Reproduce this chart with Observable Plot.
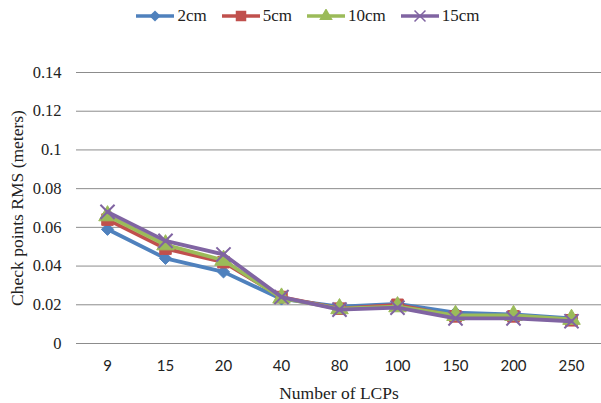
<!DOCTYPE html>
<html>
<head>
<meta charset="utf-8">
<script src="https://cdn.jsdelivr.net/npm/d3@7"></script>
<script src="https://cdn.jsdelivr.net/npm/@observablehq/plot@0.6"></script>
<style>
  html, body { margin: 0; padding: 0; background: #fff; }
  #wrap { width: 601px; height: 403px; position: relative; overflow: hidden; }
  #legend { height: 32px; display: flex; justify-content: center; align-items: center; gap: 14px;
            font-family: "Liberation Serif", serif; font-size: 17px; color: #222; padding-left: 14px; box-sizing: border-box; }
  .item { display: flex; align-items: center; gap: 2px; }
  #chart svg { display: block; }
</style>
</head>
<body>
<div id="wrap">
  <div id="legend"></div>
  <div id="chart"></div>
</div>
<script>
const categories = ["9", "15", "20", "40", "80", "100", "150", "200", "250"];
const seriesNames = ["2cm", "5cm", "10cm", "15cm"];
const values2cm  = [0.059, 0.044, 0.037, 0.023, 0.019, 0.0205, 0.016, 0.015, 0.013];
const values5cm  = [0.064, 0.049, 0.042, 0.024, 0.018, 0.020, 0.014, 0.014, 0.012];
const values10cm = [0.066, 0.051, 0.043, 0.0235, 0.018, 0.019, 0.0145, 0.0145, 0.0125];
const values15cm = [0.068, 0.053, 0.046, 0.024, 0.0175, 0.0185, 0.013, 0.013, 0.0115];
const yTicks = [0, 0.02, 0.04, 0.06, 0.08, 0.1, 0.12, 0.14];
const colors = ["#4F81BD", "#C0504D", "#9BBB59", "#8064A2"];
const symbols = ["diamond2", "square", "triangle", "times"];
const seriesValues = [values2cm, values5cm, values10cm, values15cm];

const data = [];
seriesNames.forEach((s, i) => {
  categories.forEach((c, j) => data.push({series: s, x: c, y: seriesValues[i][j]}));
});

const marks = [
  Plot.gridY(yTicks, {stroke: "#8c8c8c", strokeOpacity: 1, strokeWidth: 1})
];
seriesNames.forEach((s, i) => {
  const d = data.filter(r => r.series === s);
  marks.push(Plot.line(d, {x: "x", y: "y", stroke: colors[i], strokeWidth: 3.8, strokeLinejoin: "round", strokeLinecap: "round"}));
  if (symbols[i] === "times") {
    marks.push(Plot.dot(d, {x: "x", y: "y", symbol: "times", r: 6.5, stroke: colors[i], strokeWidth: 2, fill: "none"}));
  } else {
    marks.push(Plot.dot(d, {x: "x", y: "y", symbol: symbols[i], r: symbols[i] === "diamond2" ? 5.5 : 6.5, fill: colors[i], stroke: colors[i], strokeWidth: 1}));
  }
});

marks.push(Plot.axisY({ticks: yTicks, tickSize: 0, tickPadding: 15, tickFormat: d => String(d),
  fontFamily: "Liberation Serif", fontSize: 16.5, fill: "#222",
  label: "Check points RMS (meters)", labelAnchor: "center", labelArrow: "none", labelOffset: 66}));
marks.push(Plot.axisX({tickSize: 0, tickPadding: 17, fontFamily: "Lato", fontSize: 15, fill: "#222",
  label: "Number of LCPs", labelAnchor: "center", labelArrow: "none", labelOffset: 55}));

const chart = Plot.plot({
  width: 601,
  height: 371,
  marginTop: 40,
  marginBottom: 60,
  marginLeft: 76,
  marginRight: 0,
  x: {type: "point", domain: categories, padding: 0.5},
  y: {domain: [0, 0.14]},
  style: {fontFamily: "Liberation Serif", fontSize: "17.5px", color: "#222", background: "white", overflow: "visible"},
  marks
});
document.getElementById("chart").appendChild(chart);

// fonts: serif for y ticks and titles, sans for x ticks
chart.querySelectorAll("[aria-label='y-axis tick label']").forEach(g => {
  g.setAttribute("font-family", "Liberation Serif");
  g.setAttribute("font-size", "16.5");
  g.querySelectorAll("text").forEach(t => { t.style.fontFamily = "'Liberation Serif'"; t.style.fontSize = "16.5px"; });
});
chart.querySelectorAll("[aria-label='x-axis tick label']").forEach(g => {
  g.querySelectorAll("text").forEach(t => { t.style.fontFamily = "Lato"; t.style.fontSize = "15px"; });
});
chart.querySelectorAll("[aria-label='y-axis label'], [aria-label='x-axis label']").forEach(g => {
  g.querySelectorAll("text").forEach(t => { t.style.fontFamily = "'Liberation Serif'"; t.style.fontSize = "17.5px"; });
});

// legend
const legend = document.getElementById("legend");
seriesNames.forEach((s, i) => {
  const item = document.createElement("div");
  item.className = "item";
  const svg = d3.create("svg").attr("width", 40).attr("height", 14);
  svg.append("line").attr("x1", 1).attr("x2", 39).attr("y1", 7).attr("y2", 7)
    .attr("stroke", colors[i]).attr("stroke-width", 3.5);
  const symMap = {diamond2: d3.symbolDiamond2, square: d3.symbolSquare, triangle: d3.symbolTriangle, times: d3.symbolTimes};
  const sz = symbols[i] === "square" ? 110 : 80;
  const p = svg.append("path").attr("transform", "translate(20,7)")
    .attr("d", d3.symbol(symMap[symbols[i]], sz)());
  if (symbols[i] === "times") p.attr("fill", "none").attr("stroke", colors[i]).attr("stroke-width", 1.5);
  else p.attr("fill", colors[i]);
  item.appendChild(svg.node());
  const label = document.createElement("span");
  label.textContent = s;
  item.appendChild(label);
  legend.appendChild(item);
});
</script>
</body>
</html>
